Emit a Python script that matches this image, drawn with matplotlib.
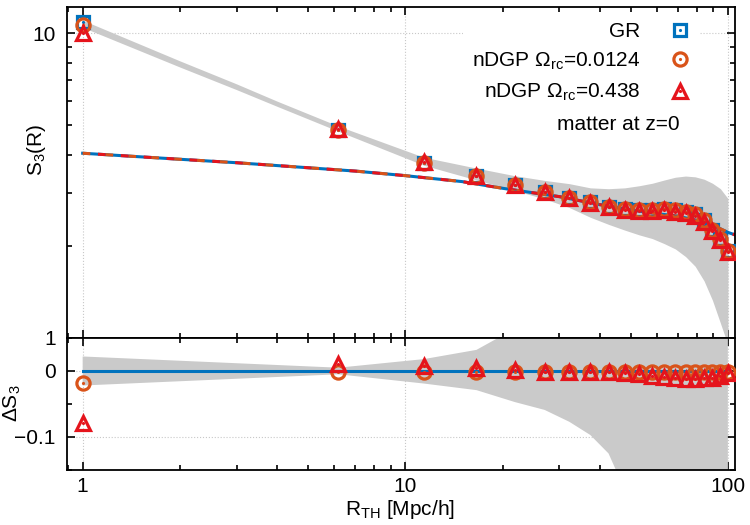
import numpy as np
import matplotlib
matplotlib.use("Agg")
import matplotlib.pyplot as plt
from matplotlib.ticker import LogLocator, MultipleLocator, FuncFormatter, NullFormatter
from matplotlib.legend_handler import HandlerTuple

plt.rcParams['font.family'] = ['Liberation Sans', 'DejaVu Sans']
plt.rcParams['mathtext.default'] = 'regular'
plt.rcParams['font.size'] = 15

# smoothing radius of the measured points [Mpc/h]
r_pts = [1.0, 6.2, 11.4, 16.6, 21.8, 27.0, 32.2, 37.4, 42.6, 47.8,
         53.0, 58.2, 63.4, 68.6, 73.8, 79.0, 84.2, 89.4, 94.6, 99.8]

# S3 measurements
s3_gr = [10.87, 4.81, 3.76, 3.40, 3.17, 3.02, 2.89, 2.79, 2.70, 2.65,
         2.63, 2.64, 2.65, 2.63, 2.60, 2.55, 2.44, 2.26, 2.11, 1.93]
s3_dgp1 = [10.68, 4.81, 3.75, 3.40, 3.17, 3.02, 2.89, 2.79, 2.70, 2.65,
           2.63, 2.64, 2.65, 2.63, 2.60, 2.55, 2.44, 2.26, 2.11, 1.93]
s3_dgp2 = [10.02, 4.86, 3.79, 3.41, 3.17, 3.01, 2.88, 2.78, 2.69, 2.64,
           2.62, 2.62, 2.63, 2.60, 2.57, 2.52, 2.41, 2.24, 2.10, 1.92]

# relative differences to GR
ds3_gr = [0.0] * 20
ds3_dgp1 = [-0.018, -0.001, -0.002, -0.001, -0.001, -0.002, -0.002, -0.002, -0.002, -0.002,
            -0.002, -0.002, -0.002, -0.002, -0.002, -0.002, -0.002, -0.002, -0.001, -0.001]
ds3_dgp2 = [-0.079, 0.010, 0.007, 0.004, 0.001, -0.002, -0.002, -0.002, -0.002, -0.003,
            -0.004, -0.007, -0.009, -0.011, -0.012, -0.012, -0.011, -0.010, -0.007, -0.003]

# GR error band (top)
band_r = [1.0, 2.0, 3.0, 4.0, 6.2, 11.4, 16.6, 21.8, 27.0, 32.2, 37.4, 42.6, 47.8,
          53.0, 58.2, 63.4, 68.6, 73.8, 79.0, 84.2, 89.4, 94.6, 99.8]
band_hi = [11.04, 8.12, 6.82, 5.99, 4.96, 3.92, 3.61, 3.41, 3.29, 3.21, 3.11, 3.09, 3.11,
           3.16, 3.22, 3.30, 3.37, 3.40, 3.38, 3.32, 3.22, 3.09, 2.87]
band_lo = [10.46, 7.75, 6.53, 5.76, 4.77, 3.69, 3.30, 3.05, 2.86, 2.68, 2.49, 2.36, 2.26,
           2.18, 2.12, 2.04, 1.96, 1.85, 1.72, 1.54, 1.33, 1.12, 0.95]

# relative error band (bottom)
dband_hi = [0.022, 0.005, 0.018, 0.032, 0.064, 0.09, 0.11, 0.13, 0.15, 0.17,
            0.19, 0.21, 0.23, 0.25, 0.27, 0.29, 0.31, 0.33, 0.35, 0.37]
dband_lo = [-0.022, -0.005, -0.019, -0.029, -0.047, -0.059, -0.077, -0.097, -0.125, -0.18,
            -0.21, -0.24, -0.27, -0.30, -0.33, -0.36, -0.39, -0.42, -0.45, -0.48]

# theory curves
r_th = [1, 2, 3, 5, 7, 10, 15, 20, 30, 40, 50, 60, 70, 80, 90, 100, 105]
s3_th = [4.04, 3.86, 3.76, 3.62, 3.53, 3.41, 3.26, 3.10, 2.91, 2.74, 2.63, 2.56, 2.51,
         2.43, 2.34, 2.22, 2.18]

c_gr = '#0072bd'
c_o = '#d95319'
c_r = '#e5141c'
c_band = '#cacaca'
grid_kw = dict(color='#c8c8c8', ls=':', lw=0.8)

fig = plt.figure(figsize=(7.5, 5.25), dpi=100)
ax1 = fig.add_axes([0.0893, 0.3562, 0.8907, 0.6305])
ax2 = fig.add_axes([0.0893, 0.1048, 0.8907, 0.2514], sharex=ax1)


def markers(ax, x, y, marker, color, z, ms=9.5):
    h = ax.plot(x, y, ls='none', marker=marker, ms=ms, mfc='none', mec=color, mew=2.3, zorder=z)[0]
    d = ax.plot(x, y, ls='none', marker='.', ms=2.5, color=color, zorder=z)[0]
    return (h, d)


# top panel
ax1.fill_between(band_r, band_lo, band_hi, color=c_band, lw=0, zorder=1)
ax1.plot(r_th, s3_th, color=c_gr, lw=2.2, zorder=2)
ax1.plot(r_th, s3_th, color=c_o, lw=2.2, ls=(0, (2.5, 5)), zorder=2)
ax1.plot(r_th, s3_th, color=c_r, lw=2.2, ls=(2.5, (2.5, 5)), zorder=2)
h_gr = markers(ax1, r_pts, s3_gr, 's', c_gr, 3, ms=9)
h_o = markers(ax1, r_pts, s3_dgp1, 'o', c_o, 4)
h_r = markers(ax1, r_pts, s3_dgp2, '^', c_r, 5, ms=10.5)

ax1.set_xscale('log')
ax1.set_yscale('log')
ax1.set_xlim(0.894, 105)
ax1.set_ylim(1, 12.2)
ax1.set_ylabel('S$_3$(R)')
ax1.yaxis.set_label_coords(-0.028, 0.568)

leg = ax1.legend([h_gr, h_o, h_r],
                 ['GR', r'nDGP $\Omega_{rc}$=0.0124', r'nDGP $\Omega_{rc}$=0.438'],
                 handler_map={tuple: HandlerTuple(ndivide=1)},
                 loc='upper right', bbox_to_anchor=(0.9457, 0.98), borderaxespad=0,
                 markerfirst=False, frameon=True, facecolor='white', edgecolor='none',
                 framealpha=1, fancybox=False, handlelength=1.0, handletextpad=1.4,
                 borderpad=0.4, labelspacing=0.47, fontsize=15)
leg.set_zorder(6)
ax1.text(0.9177, 0.6435, 'matter at z=0', transform=ax1.transAxes,
         ha='right', va='center', fontsize=15, zorder=7)

# bottom panel
ax2.fill_between(r_pts, dband_lo, dband_hi, color=c_band, lw=0, zorder=1)
ax2.plot(r_pts, ds3_gr, color=c_gr, lw=2.2, zorder=2)
markers(ax2, r_pts, ds3_dgp1, 'o', c_o, 4)
markers(ax2, r_pts, ds3_dgp2, '^', c_r, 5, ms=10.5)
ax2.set_ylim(-0.15, 0.05)
ax2.yaxis.set_major_locator(MultipleLocator(0.1))
ax2.yaxis.set_minor_locator(MultipleLocator(0.05))
ax2.yaxis.set_major_formatter(
    FuncFormatter(lambda v, p: '0' if abs(v) < 1e-9 else ('%g' % v).replace('-', '\u2212')))
ax2.set_ylabel('ΔS$_3$')
ax2.yaxis.set_label_coords(-0.066, 0.508)
ax2.set_xlabel('R$_{TH}$ [Mpc/h]')
ax2.xaxis.set_label_coords(0.4985, -0.215)

fmt = FuncFormatter(lambda v, p: '%g' % v)
for ax in (ax1, ax2):
    ax.xaxis.set_major_locator(LogLocator(base=10))
    ax.xaxis.set_minor_locator(LogLocator(base=10, subs=range(2, 10)))
    ax.xaxis.set_minor_formatter(NullFormatter())
    ax.tick_params(which='both', direction='in', top=True, right=True, width=1.2)
    ax.tick_params(which='major', length=6, pad=8)
    ax.tick_params(which='minor', length=3.5)
    ax.tick_params(axis='x', which='major', pad=5)
    ax.grid(True, which='major', **grid_kw)
    ax.set_axisbelow(True)
    for s in ax.spines.values():
        s.set_linewidth(1.3)
ax1.yaxis.set_major_formatter(fmt)
ax1.yaxis.set_minor_formatter(NullFormatter())
ax1.tick_params(axis='x', labelbottom=False)
ax2.xaxis.set_major_formatter(fmt)

fig.savefig('out.png', dpi=100)
